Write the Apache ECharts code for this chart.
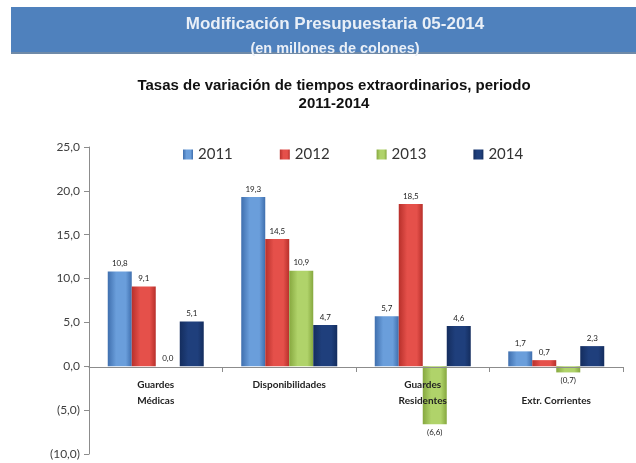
<!DOCTYPE html>
<html>
<head>
<meta charset="utf-8">
<script src="https://cdn.jsdelivr.net/npm/echarts@6/dist/echarts.min.js"></script>
<style>
html,body{margin:0;padding:0;background:#fff;}
#c{width:636px;height:463px;}
</style>
</head>
<body>
<div id="c"></div>
<script>
const categories = ["Guardes\nMédicas", "Disponibilidades", "Guardes\nResidentes", "\nExtr. Corrientes"];
const seriesNames = ["2011", "2012", "2013", "2014"];
const values2011 = [10.8, 19.3, 5.7, 1.7];
const values2012 = [9.1, 14.5, 18.5, 0.7];
const values2013 = [0.0, 10.9, -6.6, -0.7];
const values2014 = [5.1, 4.7, 4.6, 2.3];
const yTicks = { min: -10, max: 25, interval: 5 };

const baseColors = [
  ["#3f6fae", "#6a9edb", "#3f6fae"],
  ["#b8302b", "#e5504a", "#b8302b"],
  ["#86a83f", "#b0d36a", "#86a83f"],
  ["#142d5e", "#1f3f7c", "#142d5e"]
];
function grad(c){
  return new echarts.graphic.LinearGradient(0,0,1,0,[
    {offset:0,color:c[0]},{offset:0.35,color:c[1]},{offset:0.75,color:c[1]},{offset:1,color:c[2]}
  ]);
}
function fmt(v){
  const s = Math.abs(v).toFixed(1).replace('.', ',');
  return v < 0 ? '(' + s + ')' : s;
}
const allValues = [values2011, values2012, values2013, values2014];

const chart = echarts.init(document.getElementById('c'), null, {renderer:'canvas'});
chart.setOption({
  animation: false,
  backgroundColor: '#ffffff',
  graphic: [
    {type:'rect', shape:{x:11, y:7, width:625, height:46}, style:{fill:'#4f81bd'}, z:0},
    {type:'rect', shape:{x:11, y:52, width:625, height:2}, style:{fill:'#6f8aa8'}, z:0}
  ],
  title: [
    {text:'Modificación Presupuestaria 05-2014', left:330, textAlign:'center', top:11,
     textStyle:{fontFamily:'Liberation Sans', fontSize:17, fontWeight:'bold', color:'#e9eff7'}},
    {text:'(en millones de colones)', left:330, textAlign:'center', top:36,
     textStyle:{fontFamily:'Liberation Sans', fontSize:14.5, fontWeight:'bold', color:'#e9eff7'}},
    {text:'Tasas de variación de tiempos extraordinarios, periodo\n2011-2014', left:329, textAlign:'center', top:72,
     textStyle:{fontFamily:'Liberation Sans', fontSize:15, fontWeight:'bold', color:'#111', lineHeight:18}}
  ],
  legend: {
    data: seriesNames,
    left: 178, top: 142,
    itemWidth: 10, itemHeight: 10, itemGap: 47,
    icon: 'rect',
    textStyle: {fontFamily:'Lato', fontSize:15, color:'#333'}
  },
  grid: {left:89, right:13, top:147, bottom:9, containLabel:false, outerBoundsMode:'none'},
  xAxis: {
    type:'category', data: categories,
    position:'bottom', offset:-87,
    axisLine:{show:true, onZero:false, lineStyle:{color:'#8c8c8c'}},
    axisTick:{show:true, length:5, lineStyle:{color:'#8c8c8c'}},
    axisLabel:{fontFamily:'Lato', fontSize:10, fontWeight:'bold', color:'#222', margin:10, lineHeight:16, interval:0},
    z: 5
  },
  yAxis: {
    type:'value', min:yTicks.min, max:yTicks.max, interval:yTicks.interval,
    axisLine:{show:true, lineStyle:{color:'#8c8c8c'}},
    axisTick:{show:true, length:5, lineStyle:{color:'#8c8c8c'}},
    splitLine:{show:false},
    axisLabel:{fontFamily:'Lato', fontSize:12, color:'#404040', margin:9, formatter:fmt}
  },
  series: seriesNames.map((n,i)=>({
    name:n, type:'bar',
    data: allValues[i].map(v=>({value:v, label:{position: v<0 ? 'bottom':'top'}})),
    barWidth:24, barGap:'0%',
    itemStyle:{color: grad(baseColors[i])},
    label:{show:true, fontFamily:'Lato', fontSize:8, color:'#222',
      position:'top', distance:4,
      formatter:p=>fmt(p.value)},
    z: 2
  }))
});
</script>
</body>
</html>
